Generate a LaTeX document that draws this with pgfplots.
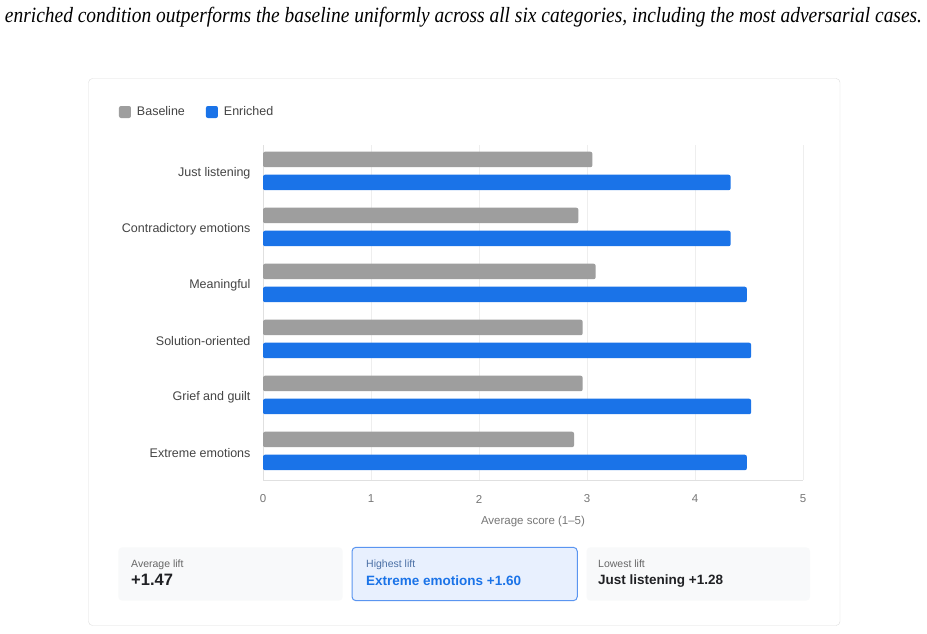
\documentclass[border=0pt]{standalone}
\usepackage{pgfplots}
\pgfplotsset{compat=1.18}
\usepackage{fontspec}
\setmainfont{Liberation Sans}
\newfontfamily\capfont{Liberation Serif}
\definecolor{basegray}{HTML}{9E9E9E}
\definecolor{enblue}{HTML}{1A73E8}
\definecolor{gridc}{HTML}{EEEEEE}
\definecolor{axisc}{HTML}{E0E0E0}
\definecolor{cardc}{HTML}{DDDDDD}
\definecolor{labc}{HTML}{444444}
\definecolor{tickc}{HTML}{777777}
\definecolor{boxfill}{HTML}{F8F9FA}
\definecolor{hifill}{HTML}{E8F0FE}
\definecolor{hiborder}{HTML}{5A95F0}
\definecolor{hilab}{HTML}{4A6FA5}
\definecolor{valc}{HTML}{202124}
\definecolor{smallc}{HTML}{666666}
\begin{document}
\begin{tikzpicture}[x=1pt,y=1pt]
\useasboundingbox (0,0) rectangle (927,633);
\fill[white] (0,0) rectangle (927,633);
\node[inner sep=0pt] at (463.5,615.5) {\scalebox{1}[1.12]{\resizebox{917pt}{!}{\capfont\itshape enriched condition outperforms the baseline uniformly across all six categories, including the most adversarial cases.}}};
\draw[cardc, fill=white, rounded corners=4pt] (88.5,7.5) rectangle (840,554.5);
\begin{axis}[
  at={(263pt,153pt)}, anchor=south west,
  scale only axis, width=540pt, height=335pt,
  xmin=0, xmax=5, ymin=-0.464, ymax=5.518,
  y dir=reverse,
  xbar, bar width=15.5pt,
  xtick={0,1,2,3,4,5},
  ytick={0,1,2,3,4,5},
  yticklabels={Just listening,Contradictory emotions,Meaningful,Solution-oriented,Grief and guilt,Extreme emotions},
  axis lines*=left,
  axis line style={draw=axisc, line width=1pt},
  xmajorgrids, grid style={draw=gridc, line width=0.8pt},
  major tick length=0pt,
  tick style={draw=none},
  /pgf/number format/assume math mode=true,
  xticklabel style={font=\fontsize{11.5}{13}\selectfont, text=tickc, anchor=center, yshift=-19pt},
  yticklabel style={font=\fontsize{12.5}{15}\selectfont, text=labc, anchor=east, xshift=-9pt, yshift=-1.8pt},
  xlabel={Average score (1--5)},
  xlabel style={at={(axis description cs:0.5,-0.1225)}, anchor=center, font=\fontsize{11.5}{14}\selectfont, text=tickc},
  legend image code/.code={\fill[#1,draw=none] (0pt,-6pt) rectangle (12pt,6pt);},
  legend style={at={(axis description cs:-0.2667,1.0985)}, anchor=west, draw=none, fill=none, inner sep=0pt, outer sep=0pt,
    legend columns=-1, font=\fontsize{12.5}{15}\selectfont, text=labc,
    nodes={inner sep=0pt, anchor=west},
    /tikz/every odd column/.append style={column sep=6pt},
    /tikz/every even column/.append style={column sep=21pt}},
]
\addplot[fill=basegray, draw=none, rounded corners=2pt, bar shift=11.5pt] coordinates {(3.05,0) (2.92,1) (3.08,2) (2.96,3) (2.96,4) (2.88,5)};
\addplot[fill=enblue, draw=none, rounded corners=2pt, bar shift=-11.5pt] coordinates {(4.33,0) (4.33,1) (4.48,2) (4.52,3) (4.52,4) (4.48,5)};
\legend{Baseline,Enriched}
\end{axis}
% stat boxes
\fill[boxfill, rounded corners=4pt] (118.3,32.3) rectangle (342.7,85.7);
\draw[hiborder, fill=hifill, line width=1pt, rounded corners=4pt] (352,32.3) rectangle (577.3,85.7);
\fill[boxfill, rounded corners=4pt] (586.5,32.3) rectangle (810,85.7);
\node[anchor=base west, inner sep=0pt, text=smallc, font=\fontsize{10.5}{12}\selectfont] at (131,66) {Average lift};
\node[anchor=base west, inner sep=0pt, text=valc, font=\bfseries\fontsize{16.5}{19}\selectfont] at (131,47.5) {+1.47};
\node[anchor=base west, inner sep=0pt, text=hilab, font=\fontsize{10.5}{12}\selectfont] at (366,65.5) {Highest lift};
\node[anchor=base west, inner sep=0pt, text=enblue, font=\bfseries\fontsize{13.5}{16}\selectfont] at (366,48) {Extreme emotions +1.60};
\node[anchor=base west, inner sep=0pt, text=smallc, font=\fontsize{10.5}{12}\selectfont] at (598,66) {Lowest lift};
\node[anchor=base west, inner sep=0pt, text=valc, font=\bfseries\fontsize{13.5}{16}\selectfont] at (598,49) {Just listening +1.28};
\end{tikzpicture}
\end{document}
